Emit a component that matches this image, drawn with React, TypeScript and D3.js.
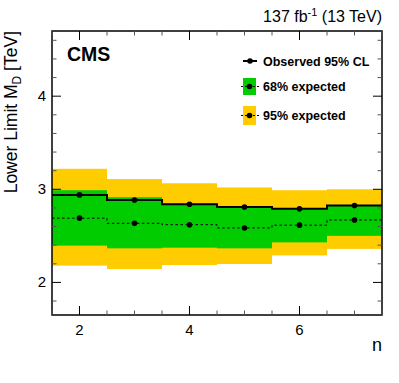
import React from 'react';
import * as d3 from 'd3';

const nValues = [2, 3, 4, 5, 6, 7];
const observed = [2.94, 2.885, 2.84, 2.81, 2.79, 2.825];
const expected = [2.69, 2.635, 2.62, 2.585, 2.615, 2.67];
const green68Up = [2.99, 2.915, 2.845, 2.815, 2.795, 2.83];
const green68Down = [2.395, 2.366, 2.373, 2.366, 2.43, 2.5];
const yellow95Up = [3.22, 3.11, 3.065, 3.02, 2.99, 3.0];
const yellow95Down = [2.18, 2.144, 2.187, 2.198, 2.29, 2.36];
const xTickLabels = [2, 4, 6];
const yTickLabels = [2, 3, 4];

const W = 399;
const H = 383;
const margin = { top: 31, right: 17, bottom: 68, left: 52 };
const font = 'Liberation Sans, Arial, Helvetica, sans-serif';

const App = () => {
    const x = d3.scaleLinear().domain([1.5, 7.5]).range([margin.left, W - margin.right]);
    const y = d3.scaleLinear().domain([1.65, 4.7]).range([H - margin.bottom, margin.top]);
    const x0 = x.range()[0], x1 = x.range()[1];
    const y0 = y.range()[0], y1 = y.range()[1];

    // step line through bin edges
    const stepPath = (vals: number[]) => {
        const pts: [number, number][] = [];
        vals.forEach((v, i) => {
            pts.push([x(nValues[i] - 0.5), y(v)]);
            pts.push([x(nValues[i] + 0.5), y(v)]);
        });
        return d3.line()(pts) as string;
    };

    const xMinor = d3.range(1.5, 7.51, 0.5);
    const yMinor = d3.range(1.8, 4.61, 0.2);

    return (
        <svg width={W} height={H} style={{ position: 'absolute', left: 0, top: 0, fontFamily: font }}>
            <rect width={W} height={H} fill="white" />
            {nValues.map((n, i) => (
                <rect key={'y' + n} x={x(n - 0.5)} width={x(n + 0.5) - x(n - 0.5)}
                    y={y(yellow95Up[i])} height={y(yellow95Down[i]) - y(yellow95Up[i])} fill="#ffcc00" />
            ))}
            {nValues.map((n, i) => (
                <rect key={'g' + n} x={x(n - 0.5)} width={x(n + 0.5) - x(n - 0.5)}
                    y={y(green68Up[i])} height={y(green68Down[i]) - y(green68Up[i])} fill="#00cc00" />
            ))}
            <path d={stepPath(expected)} fill="none" stroke="black" strokeWidth={1} strokeDasharray="2.5,2.5" />
            {nValues.map((n, i) => <circle key={'e' + n} cx={x(n)} cy={y(expected[i])} r={2.8} fill="black" />)}
            <path d={stepPath(observed)} fill="none" stroke="black" strokeWidth={2} />
            {nValues.map((n, i) => <circle key={'o' + n} cx={x(n)} cy={y(observed[i])} r={2.8} fill="black" />)}

            {/* frame */}
            <rect x={x0} y={y1} width={x1 - x0} height={y0 - y1} fill="none" stroke="black" strokeWidth={1.5} />

            {/* x ticks */}
            {xMinor.map(t => {
                const major = xTickLabels.includes(t);
                const len = major ? 9 : 4.5;
                return (
                    <g key={'xt' + t} stroke={major ? 'black' : '#555'} strokeWidth={1}>
                        <line x1={x(t)} x2={x(t)} y1={y0} y2={y0 - len} />
                        <line x1={x(t)} x2={x(t)} y1={y1} y2={y1 + len} />
                    </g>
                );
            })}
            {/* y ticks */}
            {yMinor.map(t => {
                const major = yTickLabels.some(v => Math.abs(v - t) < 1e-6);
                const len = major ? 9 : 4.5;
                return (
                    <g key={'yt' + t} stroke={major ? 'black' : '#555'} strokeWidth={1}>
                        <line x1={x0} x2={x0 + len} y1={y(t)} y2={y(t)} />
                        <line x1={x1} x2={x1 - len} y1={y(t)} y2={y(t)} />
                    </g>
                );
            })}
            {xTickLabels.map(t => (
                <text key={'xl' + t} x={x(t)} y={y0 + 20} textAnchor="middle" fontSize={15}>{t}</text>
            ))}
            {yTickLabels.map(t => (
                <text key={'yl' + t} x={x0 - 6} y={y(t) + 5} textAnchor="end" fontSize={15}>{t}</text>
            ))}

            <text x={x1} y={y0 + 36} textAnchor="end" fontSize={18}>n</text>
            <text transform={`translate(17, ${y1}) rotate(-90)`} textAnchor="end" fontSize={17.5}>
                Lower Limit M<tspan dy={4} fontSize={12}>D</tspan><tspan dy={-4}> [TeV]</tspan>
            </text>
            <text x={x1} y={22} textAnchor="end" fontSize={16}>
                137 fb<tspan dy={-6} fontSize={11}>-1</tspan><tspan dy={6}> (13 TeV)</tspan>
            </text>
            <text x={67} y={61} fontSize={19.5} fontWeight="bold">CMS</text>

            {/* legend */}
            <line x1={243} x2={257} y1={61} y2={61} stroke="black" strokeWidth={2} />
            <circle cx={250} cy={61} r={2.8} fill="black" />
            <text x={263} y={65.5} fontSize={12.5} fontWeight="bold">Observed 95% CL</text>

            <rect x={243} y={78} width={13} height={17} fill="#00cc00" />
            <line x1={241} x2={259} y1={86.5} y2={86.5} stroke="black" strokeWidth={1} strokeDasharray="2,2" />
            <circle cx={249.5} cy={86.5} r={2.8} fill="black" />
            <text x={263} y={91} fontSize={12.5} fontWeight="bold">68% expected</text>

            <rect x={243} y={106} width={13} height={19} fill="#ffcc00" />
            <line x1={241} x2={259} y1={115.5} y2={115.5} stroke="black" strokeWidth={1} strokeDasharray="2,2" />
            <circle cx={249.5} cy={115.5} r={2.8} fill="black" />
            <text x={263} y={120} fontSize={12.5} fontWeight="bold">95% expected</text>
        </svg>
    );
};

export default App;
